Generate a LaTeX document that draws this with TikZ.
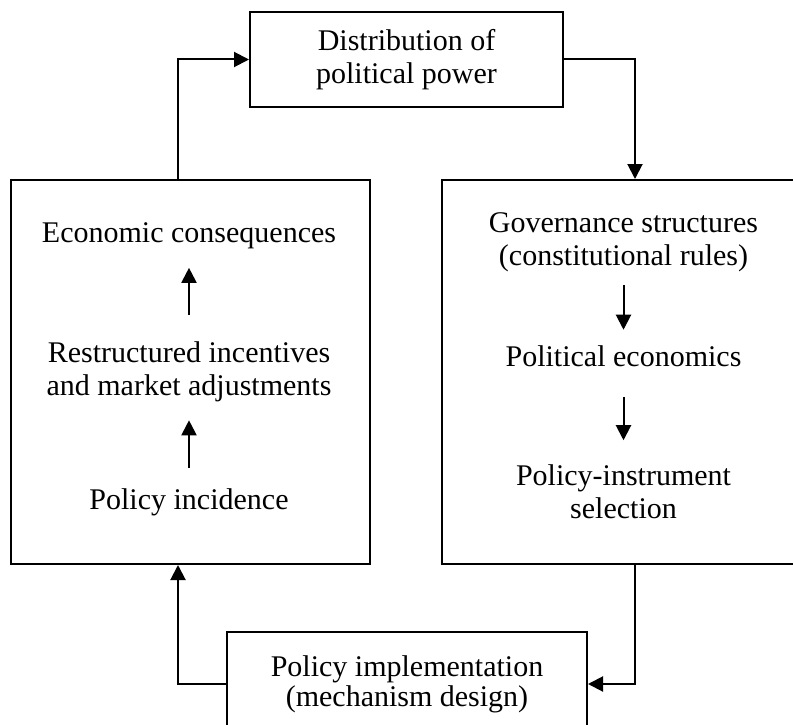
\documentclass[tikz,border=0pt]{standalone}
\usepackage{fontspec}
\setmainfont{Liberation Serif}
\usetikzlibrary{arrows.meta}
\begin{document}
\begin{tikzpicture}[x=1pt,y=-1pt,
  box/.style={draw,line width=2pt,inner sep=0pt,align=center,font=\fontsize{30}{33}\selectfont},
  txt/.style={inner sep=0pt,align=center,font=\fontsize{30}{33}\selectfont},
  arr/.style={line width=2pt,-{Triangle[length=15pt,width=15pt]}}]
\useasboundingbox (0,0) rectangle (793,725);
\begin{scope}
\clip (0,0) rectangle (793,725);
% boxes
\node[box,minimum width=313pt,minimum height=95pt] (top) at (406.5,59.5) {Distribution of\\political power};
\node[box,minimum width=359pt,minimum height=384pt] (lbox) at (190.5,372) {};
\node[box,minimum width=362pt,minimum height=384pt] (rbox) at (623,372) {};
\node[box,minimum width=360pt,minimum height=104pt] (bot) at (407,684) {\raisebox{5pt}{\shortstack{Policy implementation\\(mechanism design)}}};
% left column
\node[txt] (econ) at (189,236) {Economic consequences};
\node[txt] (restr) at (189,371.5) {Restructured incentives\\and market adjustments};
\node[txt] (incid) at (189,502) {Policy incidence};
% right column
\node[txt] (gov) at (623.5,242) {Governance structures\\(constitutional rules)};
\node[txt] (polec) at (623.5,356) {Political economics};
\node[txt] (instr) at (623.5,492) {Policy-instrument\\selection};
% inner arrows
\draw[arr,shorten <=26.5pt,shorten >=18.5pt] (restr.north) -- (econ.south);
\draw[arr,shorten <=20.5pt,shorten >=18.5pt] (incid.north) -- (restr.south);
\draw[arr,shorten <=13.5pt,shorten >=15.5pt] (gov.south) -- (polec.north);
\draw[arr,shorten <=30pt,shorten >=24.5pt] (polec.south) -- (instr.north);
% loop connectors
\coordinate (cL) at (178,0);
\coordinate (cR) at (635,0);
\draw[arr] (lbox.north -| cL) |- (top.west);
\draw[arr] (top.east) -| (rbox.north -| cR);
\draw[arr] (rbox.south -| cR) |- (bot.east);
\draw[arr] (bot.west) -| (lbox.south -| cL);
\end{scope}
\end{tikzpicture}
\end{document}
